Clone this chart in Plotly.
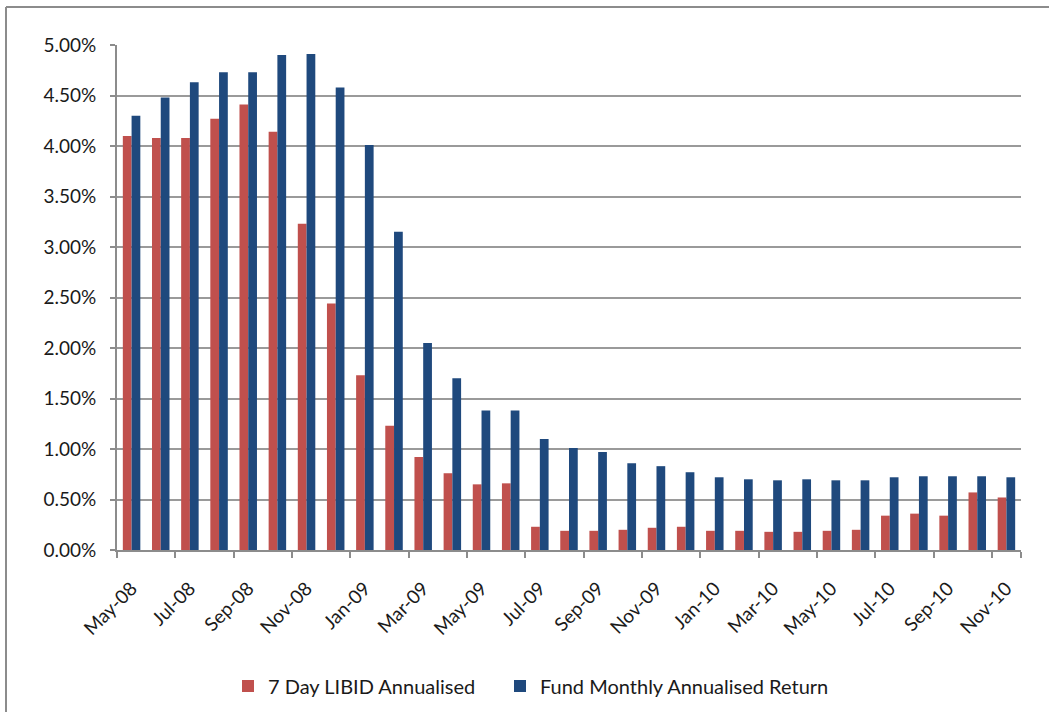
import plotly.graph_objects as go

months = ["May-08", "Jun-08", "Jul-08", "Aug-08", "Sep-08", "Oct-08", "Nov-08", "Dec-08",
          "Jan-09", "Feb-09", "Mar-09", "Apr-09", "May-09", "Jun-09", "Jul-09", "Aug-09",
          "Sep-09", "Oct-09", "Nov-09", "Dec-09", "Jan-10", "Feb-10", "Mar-10", "Apr-10",
          "May-10", "Jun-10", "Jul-10", "Aug-10", "Sep-10", "Oct-10", "Nov-10"]

libid = [4.10, 4.08, 4.08, 4.27, 4.41, 4.14, 3.23, 2.44, 1.73, 1.23, 0.92, 0.76, 0.65, 0.66,
         0.23, 0.19, 0.19, 0.20, 0.22, 0.23, 0.19, 0.19, 0.18, 0.18, 0.19, 0.20, 0.34, 0.36,
         0.34, 0.57, 0.52]

fund = [4.30, 4.48, 4.63, 4.73, 4.73, 4.90, 4.91, 4.58, 4.01, 3.15, 2.05, 1.70, 1.38, 1.38,
        1.10, 1.01, 0.97, 0.86, 0.83, 0.77, 0.72, 0.70, 0.69, 0.70, 0.69, 0.69, 0.72, 0.73,
        0.73, 0.73, 0.72]

y_ticks = [0, 0.5, 1.0, 1.5, 2.0, 2.5, 3.0, 3.5, 4.0, 4.5, 5.0]
y_tick_labels = ["%.2f%%" % v for v in y_ticks]
x_tick_labels = months[::2]

RED = "#C0504D"
BLUE = "#1F497D"
FONT = "Lato, Noto Sans, sans-serif"
TXT = "#1a1a1a"

fig = go.Figure()
fig.add_trace(go.Bar(x=months, y=libid, name="7 Day LIBID Annualised",
                     marker=dict(color=RED, line=dict(width=0)), legend="legend"))
fig.add_trace(go.Bar(x=months, y=fund, name="Fund Monthly Annualised Return",
                     marker=dict(color=BLUE, line=dict(width=0)), legend="legend2"))

L, R, T, B = 117, 28, 45, 162
W, H = 1049, 712
pw = W - L - R
ph = H - T - B
leg_y = -(686 - (H - B)) / ph

legend_common = dict(orientation="h", xanchor="left", y=leg_y, yanchor="middle",
                     font=dict(family=FONT, size=20, color=TXT), bgcolor="rgba(0,0,0,0)")

fig.update_layout(
    width=W, height=H,
    margin=dict(l=L, r=R, t=T, b=B, pad=0, autoexpand=False),
    paper_bgcolor="white", plot_bgcolor="white",
    barmode="group", bargap=0.40, bargroupgap=0.0,
    font=dict(family=FONT, size=19, color=TXT),
    showlegend=True,
    legend=dict(x=(228 - L) / pw, **legend_common),
    legend2=dict(x=(500 - L) / pw, **legend_common),
    xaxis=dict(
        type="category", tickmode="array", tickvals=x_tick_labels, ticktext=x_tick_labels,
        tickangle=-45, showgrid=False, showline=True, linecolor="#8c8c8c", linewidth=2,
        ticks="outside", ticklen=6, tickwidth=2, tickcolor="#8c8c8c", tickson="boundaries",
        tickfont=dict(family=FONT, size=19, color=TXT), automargin=False,
        range=[-0.5, len(months) - 0.5], ticklabelstandoff=18,
    ),
    yaxis=dict(
        range=[0, 5.0], tickmode="array", tickvals=y_ticks, ticktext=y_tick_labels,
        showgrid=True, gridcolor="#9a9a9a", gridwidth=2, showline=True,
        linecolor="#8c8c8c", linewidth=2, ticks="outside", ticklen=5, tickcolor="#8c8c8c",
        tickwidth=2, zeroline=False, tickfont=dict(family=FONT, size=19, color=TXT),
        automargin=False, ticklabelstandoff=10,
    ),
    shapes=[
        dict(type="line", xref="paper", yref="paper",
             x0=(6 - L) / pw, x1=(6 - L) / pw, y0=(H - B - 7) / ph, y1=-(B + 10) / ph,
             line=dict(color="#8c8c8c", width=2)),
        dict(type="line", xref="paper", yref="paper",
             x0=(6 - L) / pw, x1=(W + 10 - L) / pw, y0=(H - B - 7) / ph, y1=(H - B - 7) / ph,
             line=dict(color="#8c8c8c", width=2)),
    ],
)

fig.write_html("out.html", config={"displayModeBar": False},
               post_script="document.body.style.margin='0';document.body.style.overflow='hidden';")
